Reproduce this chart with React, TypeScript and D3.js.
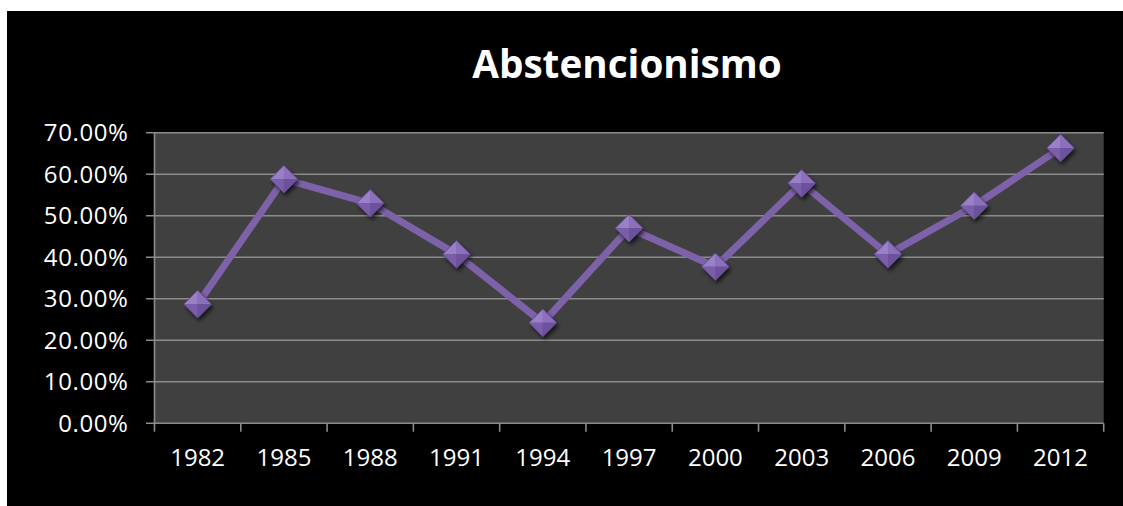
import React from 'react';
import * as d3 from 'd3';

const years = ['1982', '1985', '1988', '1991', '1994', '1997', '2000', '2003', '2006', '2009', '2012'];
const abstention = [0.287, 0.588, 0.53, 0.407, 0.242, 0.47, 0.377, 0.578, 0.407, 0.524, 0.663];
const yTicks = [0, 0.1, 0.2, 0.3, 0.4, 0.5, 0.6, 0.7];
const title = 'Abstencionismo';

const W = 1123;
const H = 506;
const left = 154.5;
const right = 1103.7;
const top = 132.7;
const bottom = 423.3;

export default function App() {
  const x = d3.scaleBand<string>().domain(years).range([left, right]).padding(0);
  const y = d3.scaleLinear().domain([0, 0.7]).range([bottom, top]);
  const fmt = d3.format('.2%');
  const line = d3
    .line<number>()
    .x((_, i) => (x(years[i]) as number) + x.bandwidth() / 2)
    .y((d) => y(d));
  const bounds = years.map((yr) => x(yr) as number).concat([right]);
  const r = 13.8;
  const font = "'Open Sans', sans-serif";
  return (
    <svg width={W} height={H} style={{ position: 'absolute', left: 0, top: 0 }}>
      <defs>
        <filter id="sh" x="-50%" y="-50%" width="200%" height="200%">
          <feDropShadow dx="2" dy="3" stdDeviation="2" floodColor="#000" floodOpacity="0.7" />
        </filter>
      </defs>
      <rect x={0} y={0} width={W} height={H} fill="#fff" />
      <rect x={7} y={11} width={W - 7} height={H - 11} fill="#000" />
      <rect x={left} y={top} width={right - left} height={bottom - top} fill="#404040" />
      {yTicks.map((t) => (
        <g key={t}>
          <line x1={146} x2={right} y1={y(t)} y2={y(t)} stroke="#8c8c8c" strokeWidth={1.6} />
          <text
            x={128.5}
            y={y(t)}
            dy="0.36em"
            textAnchor="end"
            fill="#fff"
            fontFamily={font}
            fontSize={24}
            letterSpacing={0.6}
          >
            {fmt(t)}
          </text>
        </g>
      ))}
      <line x1={left} x2={left} y1={top} y2={bottom} stroke="#8c8c8c" strokeWidth={1.6} />
      {bounds.map((b, i) => (
        <line key={i} x1={b} x2={b} y1={bottom} y2={431.7} stroke="#8c8c8c" strokeWidth={1.6} />
      ))}
      {years.map((yr) => (
        <text
          key={yr}
          x={(x(yr) as number) + x.bandwidth() / 2}
          y={466}
          textAnchor="middle"
          fill="#fff"
          fontFamily={font}
          fontSize={24}
        >
          {yr}
        </text>
      ))}
      <path d={line(abstention) || ''} fill="none" stroke="#7e62a9" strokeWidth={7} strokeLinejoin="round" />
      {abstention.map((v, i) => {
        const cx = (x(years[i]) as number) + x.bandwidth() / 2;
        const cy = y(v);
        return (
          <g key={i} transform={`translate(${cx},${cy})`}>
            <polygon points={`0,${-r} ${r},0 0,${r} ${-r},0`} fill="#6a4f98" filter="url(#sh)" />
            <polygon points={`0,${-r} ${r},0 0,0`} fill="#8d70bb" />
            <polygon points={`0,${-r} ${-r},0 0,0`} fill="#9a80c6" />
            <polygon points={`${-r},0 0,${r} 0,0`} fill="#7a5eaa" />
            <polygon points={`${r},0 0,${r} 0,0`} fill="#6c519c" />
            <polygon points={`0,${-r} ${r},0 0,${r} ${-r},0`} fill="none" stroke="#5e4688" strokeWidth={0.8} />
          </g>
        );
      })}
      <text
        x={627}
        y={77.7}
        textAnchor="middle"
        fill="#fff"
        fontFamily={font}
        fontWeight="bold"
        fontSize={38.7}
      >
        {title}
      </text>
    </svg>
  );
}
